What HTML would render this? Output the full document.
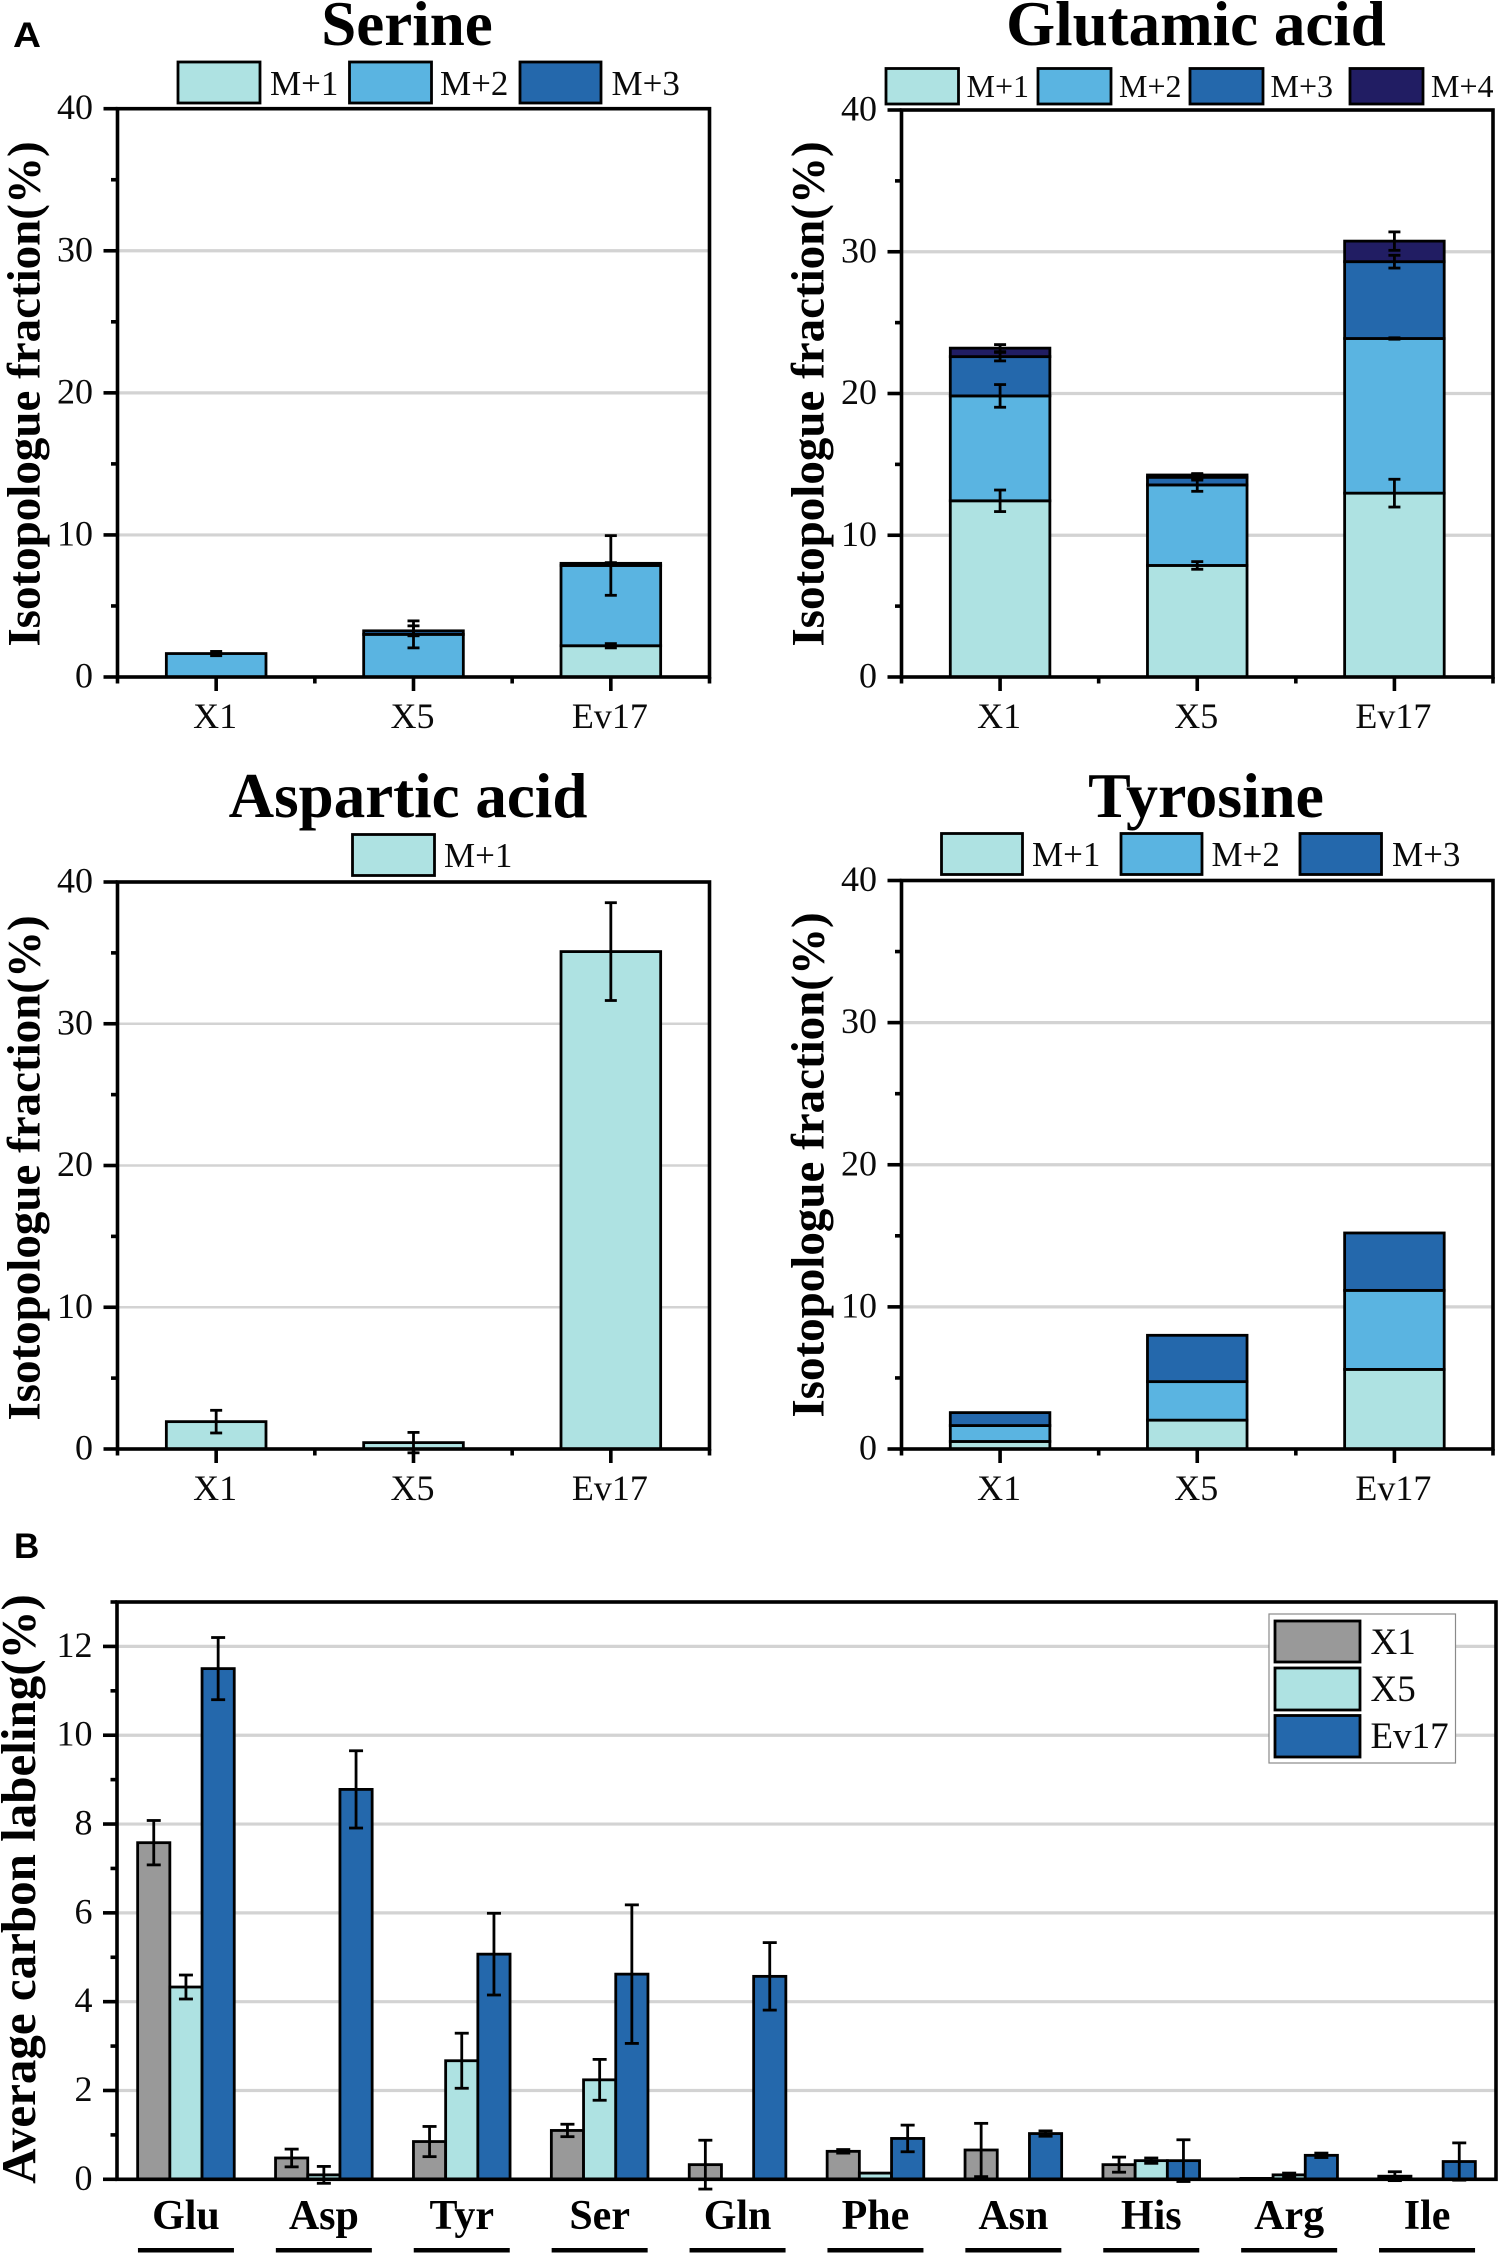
<!DOCTYPE html>
<html lang="en">
<head>
<meta charset="utf-8">
<title>Isotopologue fractions and average carbon labeling</title>
<style>
html,body{margin:0;padding:0;background:#fff;}
svg{display:block;}
text{font-family:"Liberation Serif",serif;fill:#0a0a0a;}
.ttl{font-size:63px;font-weight:bold;text-anchor:middle;fill:#000;}
.ya{font-size:47px;font-weight:bold;text-anchor:middle;fill:#000;}
.lg{font-size:35px;}
.lgs{font-size:32px;}
.lgb{font-size:37px;}
.tick{font-size:36px;}
.cat{font-size:42px;font-weight:bold;text-anchor:middle;fill:#000;}
.pl{font-family:"Liberation Sans",sans-serif;font-size:35px;font-weight:bold;fill:#000;}
.sw{stroke:#000;stroke-width:2.8;}
</style>
</head>
<body>
<svg id="figure" xmlns="http://www.w3.org/2000/svg" width="1500" height="2255" viewBox="0 0 1500 2255">
  <rect x="0" y="0" width="1500" height="2255" fill="#fff"/>
  <text class="pl" x="13" y="47" textLength="28" lengthAdjust="spacingAndGlyphs">A</text>
  <text class="pl" x="14" y="1558">B</text>

  <g id="chart-serine"></g>
  <g id="chart-glutamic"></g>
  <g id="chart-aspartic"></g>
  <g id="chart-tyrosine"></g>
  <g id="chart-average"></g>

  <text class="ttl" x="407" y="45">Serine</text>
  <text class="ttl" x="1196" y="45">Glutamic acid</text>
  <text class="ttl" x="408" y="817">Aspartic acid</text>
  <text class="ttl" style="font-size:64px" x="1206" y="817">Tyrosine</text>

  <text class="ya" transform="translate(39.5 394) rotate(-90)">Isotopologue fraction(%)</text>
  <text class="ya" transform="translate(823.5 394) rotate(-90)">Isotopologue fraction(%)</text>
  <text class="ya" transform="translate(39.5 1168) rotate(-90)">Isotopologue fraction(%)</text>
  <text class="ya" transform="translate(823.5 1165) rotate(-90)">Isotopologue fraction(%)</text>
  <text class="ya" style="font-size:49px" transform="translate(35 1889) rotate(-90)">Average carbon labeling(%)</text>

  <g>
    <rect class="sw" x="178" y="62" width="82" height="41" fill="#AEE2E2"/>
    <text class="lg" x="270" y="95">M+1</text>
    <rect class="sw" x="349.5" y="62" width="82" height="41" fill="#5AB4E1"/>
    <text class="lg" x="440" y="95">M+2</text>
    <rect class="sw" x="520" y="62" width="81" height="41" fill="#2468AC"/>
    <text class="lg" x="611.5" y="95">M+3</text>
  </g>
  <g>
    <rect class="sw" x="886" y="68.5" width="72.5" height="35.5" fill="#AEE2E2"/>
    <text class="lgs" x="966.5" y="97">M+1</text>
    <rect class="sw" x="1038" y="68.5" width="73" height="35.5" fill="#5AB4E1"/>
    <text class="lgs" x="1119" y="97">M+2</text>
    <rect class="sw" x="1190" y="68.5" width="73" height="35.5" fill="#2468AC"/>
    <text class="lgs" x="1270.5" y="97">M+3</text>
    <rect class="sw" x="1350" y="68.5" width="73" height="35.5" fill="#211D63"/>
    <text class="lgs" x="1431" y="97">M+4</text>
  </g>
  <g>
    <rect class="sw" x="352.5" y="834.5" width="82" height="41" fill="#AEE2E2"/>
    <text class="lg" x="444" y="867">M+1</text>
  </g>
  <g>
    <rect class="sw" x="941.5" y="833.5" width="81" height="41" fill="#AEE2E2"/>
    <text class="lg" x="1032" y="866">M+1</text>
    <rect class="sw" x="1121" y="833.5" width="81" height="41" fill="#5AB4E1"/>
    <text class="lg" x="1211.5" y="866">M+2</text>
    <rect class="sw" x="1300" y="833.5" width="81.5" height="41" fill="#2468AC"/>
    <text class="lg" x="1392" y="866">M+3</text>
  </g>
  <g>
    <rect x="1269" y="1614" width="186.5" height="149" fill="#fff" stroke="#8a8a8a" stroke-width="1.2"/>
    <rect class="sw" x="1275" y="1621" width="85" height="41" fill="#999999"/>
    <text class="lgb" x="1370.5" y="1654">X1</text>
    <rect class="sw" x="1275" y="1668" width="85" height="42" fill="#AEE2E2"/>
    <text class="lgb" x="1370.5" y="1701">X5</text>
    <rect class="sw" x="1275" y="1715.5" width="85" height="41.5" fill="#2468AC"/>
    <text class="lgb" x="1370.5" y="1748">Ev17</text>
  </g>
</svg>
<script>
// ---- Panel A data (segment heights, % of isotopologue fraction) ----
const strainCategories = ['X1', 'X5', 'Ev17'];
const fractionTicks = [0, 10, 20, 30, 40];

const serineM1 = [0, 0, 2.2];
const serineM2 = [1.65, 3.0, 5.65];
const serineM3 = [0, 0.25, 0.15];
const serineErrM1 = [0, 0, 0.15];
const serineErrM2 = [0.15, 0.95, 2.1];
const serineErrM3 = [0, 0.35, 0.05];

const glutamicM1 = [12.43, 7.87, 12.97];
const glutamicM2 = [7.4, 5.68, 10.91];
const glutamicM3 = [2.77, 0.54, 5.42];
const glutamicM4 = [0.6, 0.16, 1.45];
const glutamicErrM1 = [0.76, 0.27, 0.98];
const glutamicErrM2 = [0.8, 0.45, 0.05];
const glutamicErrM3 = [0.3, 0.2, 0.45];
const glutamicErrM4 = [0.25, 0.1, 0.65];

const asparticM1 = [1.93, 0.45, 35.09];
const asparticErrM1 = [0.8, 0.72, 3.45];

const tyrosineM1 = [0.53, 2.03, 5.6];
const tyrosineM2 = [1.12, 2.71, 5.56];
const tyrosineM3 = [0.91, 3.26, 4.04];

// ---- Panel B data (average carbon labeling, %) ----
const aminoAcids = ['Glu', 'Asp', 'Tyr', 'Ser', 'Gln', 'Phe', 'Asn', 'His', 'Arg', 'Ile'];
const labelingTicks = [0, 2, 4, 6, 8, 10, 12];
const labelingX1 = [7.58, 0.48, 0.85, 1.1, 0.33, 0.63, 0.66, 0.33, 0.02, 0.07];
const labelingX5 = [4.33, 0.1, 2.67, 2.24, 0, 0.14, 0, 0.42, 0.1, 0];
const labelingEv17 = [11.5, 8.78, 5.07, 4.62, 4.57, 0.92, 1.03, 0.42, 0.54, 0.4];
const labelingErrX1 = [0.5, 0.2, 0.34, 0.14, 0.55, 0.04, 0.6, 0.17, 0, 0.1];
const labelingErrX5 = [0.27, 0.19, 0.62, 0.46, 0, 0, 0, 0.06, 0.04, 0];
const labelingErrEv17 = [0.7, 0.87, 0.92, 1.56, 0.76, 0.3, 0.06, 0.47, 0.05, 0.42];

const colorM1 = '#AEE2E2';
const colorM2 = '#5AB4E1';
const colorM3 = '#2468AC';
const colorM4 = '#211D63';
const colorGray = '#999999';
const NS = 'http://www.w3.org/2000/svg';

function mk(parent, tag, attrs, txt) {
  const el = document.createElementNS(NS, tag);
  for (const k in attrs) el.setAttribute(k, attrs[k]);
  if (txt !== undefined) el.textContent = txt;
  parent.appendChild(el);
  return el;
}
function name(el, n) {
  
  
  return el;
}
function line(parent, x1, y1, x2, y2, color, w) {
  return mk(parent, 'line', {x1: x1, y1: y1, x2: x2, y2: y2, stroke: color, 'stroke-width': w});
}
function errorBar(parent, x, yHi, yLo, cap, w, label) {
  const g = mk(parent, 'g', {});
  name(g, label);
  line(g, x, yHi, x, yLo, '#000', w);
  line(g, x - cap / 2, yHi, x + cap / 2, yHi, '#000', w);
  line(g, x - cap / 2, yLo, x + cap / 2, yLo, '#000', w);
}
function drawGrid(root, box, yMax, majors, yOf, gridW, slug) {
  majors.forEach(function (v) {
    if (v === 0 || v >= yMax) return;
    const g = line(root, box.l, yOf(v), box.r, yOf(v), '#d3d3d3', gridW);
    name(g, slug + '-gridline');
  });
}
function yAxisMarks(root, box, majors, minors, yOf, slug) {
  majors.forEach(function (v) {
    const t = line(root, box.l - 14, yOf(v), box.l, yOf(v), '#000', 3.6);
    name(t, slug + '-y-major-tick');
    const lab = mk(root, 'text', {class: 'tick', x: box.l - 24.5, y: yOf(v) + 10.5, 'text-anchor': 'end'}, String(v));
    name(lab, slug + '-y-tick-label');
  });
  minors.forEach(function (v) {
    const t = line(root, box.l - 6.5, yOf(v), box.l, yOf(v), '#000', 3.6);
    name(t, slug + '-y-minor-tick');
  });
}

function stackedPanel(id, slug, box, series, errors, colors, gridW) {
  const root = document.getElementById(id);
  const yOf = function (v) { return box.b - v / 40 * (box.b - box.t); };
  const band = (box.r - box.l) / strainCategories.length;
  const xOf = function (i) { return box.l + band * (i + 0.5); };
  const bw = band * 0.505;
  drawGrid(root, box, 40, fractionTicks, yOf, gridW, slug);
  const bars = mk(root, 'g', {});
  name(bars, slug + '-bars');
  const errs = mk(root, 'g', {});
  name(errs, slug + '-error-bars');
  strainCategories.forEach(function (cat, i) {
    let base = 0;
    series.forEach(function (vals, s) {
      const top = base + vals[i];
      if (vals[i] > 0) {
        const r = mk(bars, 'rect', {
          x: xOf(i) - bw / 2, y: yOf(top), width: bw, height: yOf(base) - yOf(top),
          fill: colors[s], stroke: '#000', 'stroke-width': 2.8
        });
        name(r, slug + '-bar-' + cat.toLowerCase() + '-m' + (s + 1));
        if (errors[s] && errors[s][i] > 0) {
          errorBar(errs, xOf(i), yOf(top + errors[s][i]), yOf(top - errors[s][i]), 12, 2.8,
            slug + '-error-' + cat.toLowerCase() + '-m' + (s + 1));
        }
      }
      base = top;
    });
  });
  const frame = mk(root, 'rect', {x: box.l, y: box.t, width: box.r - box.l, height: box.b - box.t, fill: 'none', stroke: '#000', 'stroke-width': 3.6});
  name(frame, slug + '-plot-frame');
  yAxisMarks(root, box, fractionTicks, [5, 15, 25, 35], yOf, slug);
  for (let k = 0; k <= strainCategories.length; k++) {
    const t = line(root, box.l + band * k, box.b, box.l + band * k, box.b + 6.5, '#000', 3.6);
    name(t, slug + '-x-minor-tick');
  }
  strainCategories.forEach(function (cat, i) {
    const t = line(root, xOf(i), box.b, xOf(i), box.b + 14, '#000', 3.6);
    name(t, slug + '-x-major-tick');
    const lab = mk(root, 'text', {class: 'tick', x: xOf(i) - 1, y: box.b + 51, 'text-anchor': 'middle'}, cat);
    name(lab, slug + '-x-tick-label');
  });
}

stackedPanel('chart-serine', 'serine', {l: 117.5, r: 709.5, t: 108.7, b: 677},
  [serineM1, serineM2, serineM3], [serineErrM1, serineErrM2, serineErrM3],
  [colorM1, colorM2, colorM3], 3.2);
stackedPanel('chart-glutamic', 'glutamic', {l: 901.5, r: 1493, t: 110, b: 677},
  [glutamicM1, glutamicM2, glutamicM3, glutamicM4],
  [glutamicErrM1, glutamicErrM2, glutamicErrM3, glutamicErrM4],
  [colorM1, colorM2, colorM3, colorM4], 3.2);
stackedPanel('chart-aspartic', 'aspartic', {l: 117.5, r: 709.5, t: 882, b: 1449},
  [asparticM1], [asparticErrM1], [colorM1], 2.4);
stackedPanel('chart-tyrosine', 'tyrosine', {l: 901.5, r: 1493, t: 880.5, b: 1449},
  [tyrosineM1, tyrosineM2, tyrosineM3], [], [colorM1, colorM2, colorM3], 3.2);

(function averagePanel() {
  const root = document.getElementById('chart-average');
  const box = {l: 117, r: 1496, t: 1602, b: 2179.3};
  const yOf = function (v) { return box.b - v / 13 * (box.b - box.t); };
  const band = (box.r - box.l) / aminoAcids.length;
  const xOf = function (i) { return box.l + band * (i + 0.5); };
  const bw = 32.2;
  drawGrid(root, box, 13, labelingTicks, yOf, 3.2, 'average');
  const series = [labelingX1, labelingX5, labelingEv17];
  const errs = [labelingErrX1, labelingErrX5, labelingErrEv17];
  const colors = [colorGray, colorM1, colorM3];
  const strains = ['x1', 'x5', 'ev17'];
  const bars = mk(root, 'g', {});
  name(bars, 'average-bars');
  const errGroup = mk(root, 'g', {});
  name(errGroup, 'average-error-bars');
  aminoAcids.forEach(function (aa, i) {
    series.forEach(function (vals, s) {
      const x = xOf(i) + (s - 1) * bw;
      if (vals[i] > 0) {
        const r = mk(bars, 'rect', {
          x: x - bw / 2, y: yOf(vals[i]), width: bw, height: box.b - yOf(vals[i]),
          fill: colors[s], stroke: '#000', 'stroke-width': 2.8
        });
        name(r, 'average-bar-' + aa.toLowerCase() + '-' + strains[s]);
      }
      if (errs[s][i] > 0) {
        errorBar(errGroup, x, yOf(vals[i] + errs[s][i]), yOf(vals[i] - errs[s][i]), 14, 2.8,
          'average-error-' + aa.toLowerCase() + '-' + strains[s]);
      }
    });
  });
  const frame = mk(root, 'rect', {x: box.l, y: box.t, width: box.r - box.l, height: box.b - box.t, fill: 'none', stroke: '#000', 'stroke-width': 3.6});
  name(frame, 'average-plot-frame');
  yAxisMarks(root, box, labelingTicks, [1, 3, 5, 7, 9, 11, 13], yOf, 'average');
  aminoAcids.forEach(function (aa, i) {
    const lab = mk(root, 'text', {class: 'cat', x: xOf(i), y: 2229}, aa);
    name(lab, 'average-category-label-' + aa.toLowerCase());
    const u = mk(root, 'rect', {x: xOf(i) - 48, y: 2248, width: 96, height: 4.5, fill: '#000'});
    name(u, 'average-category-underline-' + aa.toLowerCase());
  });
})();
</script>
</body>
</html>
